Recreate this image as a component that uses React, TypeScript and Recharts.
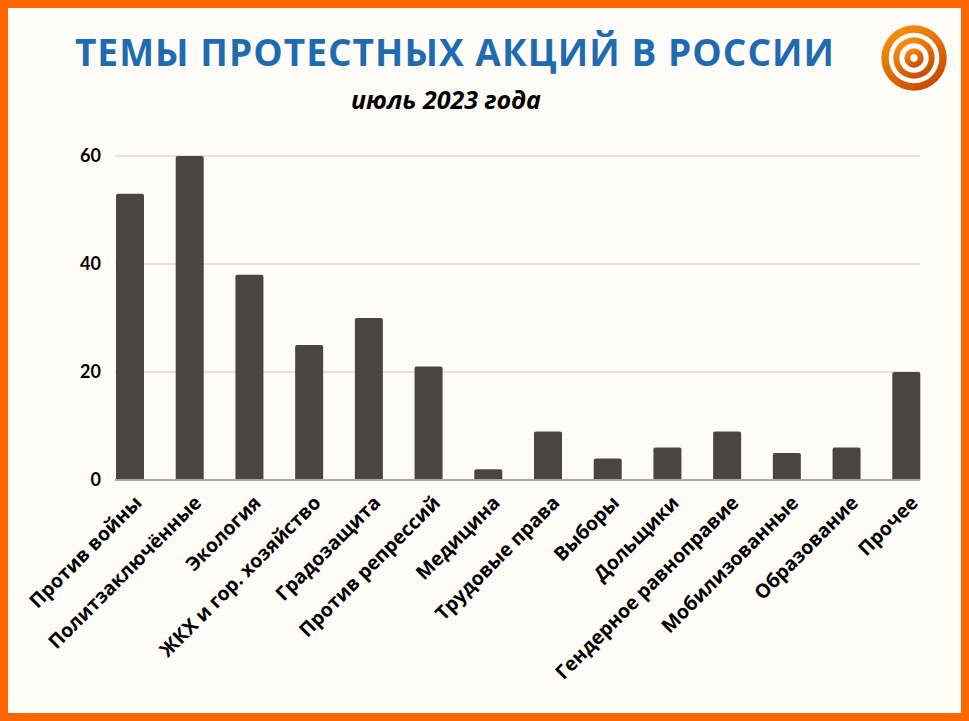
import { Bar, BarChart, CartesianGrid, XAxis, YAxis } from "recharts";

const topics = [
  "Против войны",
  "Политзаключённые",
  "Экология",
  "ЖКХ и гор. хозяйство",
  "Градозащита",
  "Против репрессий",
  "Медицина",
  "Трудовые права",
  "Выборы",
  "Дольщики",
  "Гендерное равноправие",
  "Мобилизованные",
  "Образование",
  "Прочее"
];
const actions = [53, 60, 38, 25, 30, 21, 2, 9, 4, 6, 9, 5, 6, 20];
const yTicks = [0, 20, 40, 60];

const data = topics.map((name, i) => ({ name, value: actions[i] }));

const ORANGE = "#ff6600";
const BG = "#fffcf7";

function TopicTick({ x, y, payload }: any) {
  const tx = x + 13;
  const ty = y + 16;
  return (
    <text
      x={tx}
      y={ty}
      transform={`rotate(-45 ${tx} ${ty})`}
      textAnchor="end"
      fontFamily="'Open Sans', sans-serif"
      fontWeight={700}
      fontSize={19.5}
      fill="#000"
    >
      {payload.value}
    </text>
  );
}

function Target() {
  return (
    <svg width={70} height={70} style={{ position: "absolute", left: 879, top: 23 }}>
      <defs>
        <linearGradient id="tg" x1="0" y1="0" x2="0.6" y2="1">
          <stop offset="0%" stopColor="#ff9a10" />
          <stop offset="100%" stopColor="#c84d00" />
        </linearGradient>
      </defs>
      <circle cx={35} cy={35} r={32.7} fill="url(#tg)" />
      <circle cx={35} cy={35} r={25.3} fill="#fff" />
      <circle cx={35} cy={35} r={20.7} fill="url(#tg)" />
      <circle cx={35} cy={35} r={14.7} fill="#fff" />
      <circle cx={35} cy={35} r={9.7} fill="url(#tg)" />
      <circle cx={35} cy={35} r={3.7} fill="#fff" />
    </svg>
  );
}

export default function App() {
  return (
    <div
      style={{
        position: "absolute",
        left: 0,
        top: 0,
        width: 969,
        height: 721,
        boxSizing: "border-box",
        border: `8px solid ${ORANGE}`,
        background: BG,
        overflow: "hidden"
      }}
    >
      <div style={{ position: "absolute", left: -8, top: -8, width: 969, height: 721 }}>
        <div
          style={{
            position: "absolute",
            left: 0,
            width: 910,
            top: 26,
            textAlign: "center",
            fontFamily: "'Open Sans', sans-serif",
            fontWeight: 700,
            fontSize: 37,
            letterSpacing: 1.05,
            color: "#1f6bb0",
            whiteSpace: "nowrap"
          }}
        >
          ТЕМЫ ПРОТЕСТНЫХ АКЦИЙ В РОССИИ
        </div>
        <div
          style={{
            position: "absolute",
            left: 0,
            width: 892,
            top: 82,
            textAlign: "center",
            fontFamily: "'Open Sans', sans-serif",
            fontWeight: 700,
            fontStyle: "italic",
            fontSize: 25,
            color: "#000"
          }}
        >
          июль 2023 года
        </div>
        <Target />
        <div style={{ position: "absolute", left: 0, top: 0 }}>
          <BarChart
            width={969}
            height={721}
            data={data}
            margin={{ top: 156, right: 49, bottom: 181, left: 55 }}
            barSize={28}
          >
            <CartesianGrid vertical={false} stroke="#dddbd6" strokeWidth={1.5} />
            <XAxis
              dataKey="name"
              interval={0}
              padding={{ left: -15, right: -16 }}
              axisLine={{ stroke: "#aaa8a3", strokeWidth: 2 }}
              tickLine={false}
              tick={<TopicTick />}
              height={60}
            />
            <YAxis
              domain={[0, 60]}
              ticks={yTicks}
              axisLine={false}
              tickLine={false}
              tickSize={0}
              tickMargin={14}
              width={60}
              tick={{ fontFamily: "Lato, sans-serif", fontWeight: 700, fontSize: 18, fill: "#000" }}
            />
            <Bar dataKey="value" fill="#47463f" radius={[2, 2, 0, 0]} isAnimationActive={false} />
          </BarChart>
        </div>
      </div>
    </div>
  );
}
